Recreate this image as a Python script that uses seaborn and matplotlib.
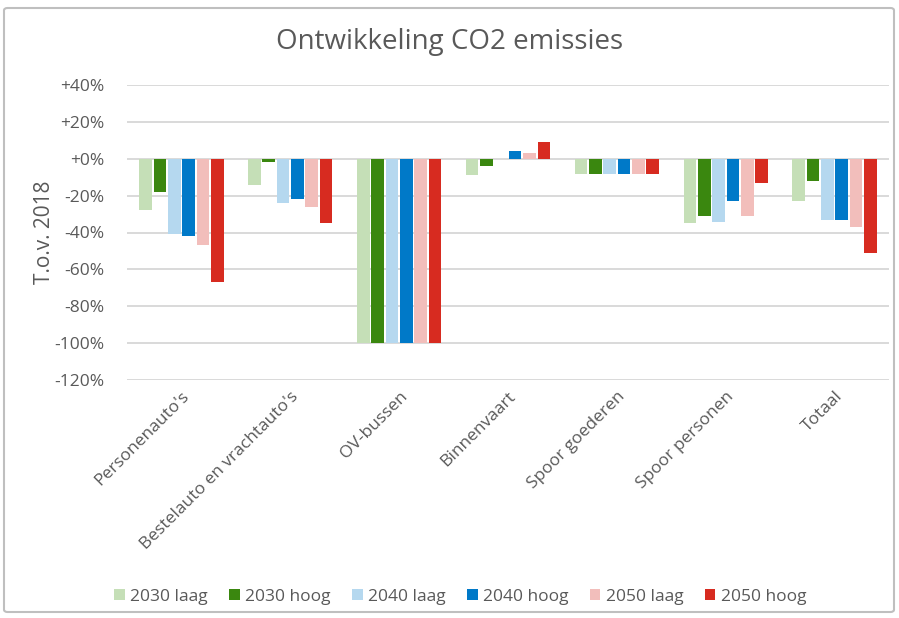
import matplotlib.pyplot as plt
import pandas as pd
import seaborn as sns
from matplotlib.patches import FancyBboxPatch
from matplotlib.ticker import FuncFormatter

categorieen = ["Personenauto's", "Bestelauto en vrachtauto's", "OV-bussen",
               "Binnenvaart", "Spoor goederen", "Spoor personen", "Totaal"]
scenarios = ["2030 laag", "2030 hoog", "2040 laag", "2040 hoog", "2050 laag", "2050 hoog"]

# verandering t.o.v. 2018 in procenten, per scenario
w2030_laag = [-28, -14, -100, -9, -8, -35, -23]
w2030_hoog = [-18, -1.5, -100, -4, -8, -31, -12]
w2040_laag = [-41, -24, -100, 0, -8, -34.5, -33]
w2040_hoog = [-42, -22, -100, 4, -8, -23, -33]
w2050_laag = [-47, -26, -100, 3, -8, -31, -37]
w2050_hoog = [-67, -35, -100, 9, -8, -13, -51]

kleuren = ["#c5dfb7", "#3a870f", "#b5d8ef", "#0079c8", "#f2bebb", "#d72b20"]

reeksen = [w2030_laag, w2030_hoog, w2040_laag, w2040_hoog, w2050_laag, w2050_hoog]
df = pd.DataFrame([
    {"categorie": c, "scenario": s, "waarde": v}
    for s, vals in zip(scenarios, reeksen)
    for c, v in zip(categorieen, vals)
])

TXT = "#595959"
sns.set_theme(style="white")
plt.rcParams["font.family"] = ["Open Sans", "DejaVu Sans"]

fig = plt.figure(figsize=(8.99, 6.18), dpi=100)
ax = fig.add_axes([127 / 899, 1 - 380 / 618, 762 / 899, 295 / 618])

sns.barplot(data=df, x="categorie", y="waarde", hue="scenario",
            order=categorieen, hue_order=scenarios, palette=kleuren,
            width=0.79, gap=0.12, saturation=1, linewidth=0, ax=ax, zorder=3)

ax.set_ylim(-120, 40)
ax.set_xlim(-0.5, len(categorieen) - 0.5)
ax.set_yticks(range(-120, 41, 20))
ax.yaxis.set_major_formatter(FuncFormatter(lambda v, _: f"{v:+.0f}%" if v != 0 else "+0%"))
ax.grid(axis="y", color="#d9d9d9", linewidth=1.4, zorder=0)
ax.set_axisbelow(True)
for sp in ax.spines.values():
    sp.set_visible(False)

ax.tick_params(axis="y", length=0, pad=16, labelsize=12.5, labelcolor=TXT)
ax.tick_params(axis="x", length=0, pad=6, labelsize=12.5, labelcolor=TXT)
ax.set_xlabel("")
ax.set_ylabel("T.o.v. 2018", fontsize=15, color=TXT, labelpad=0)
for lbl in ax.get_xticklabels():
    lbl.set_rotation(45)
    lbl.set_ha("right")
    lbl.set_rotation_mode("anchor")

fig.text(0.5, 1 - 42 / 618, "Ontwikkeling CO2 emissies", ha="center", va="center",
         fontsize=20, color=TXT)

sns.move_legend(ax, "center", bbox_to_anchor=(0.512, 1 - 597 / 618),
                bbox_transform=fig.transFigure, ncol=6, frameon=False, title=None,
                fontsize=12.5, handlelength=0.6, handleheight=0.6, handletextpad=0.3,
                columnspacing=1.25, labelcolor=TXT)

fig.patches.append(FancyBboxPatch((4 / 899, 6 / 618), 890 / 899, 604 / 618,
                                  boxstyle="round,pad=0,rounding_size=0.004",
                                  transform=fig.transFigure, fill=False,
                                  edgecolor="#bfbfbf", linewidth=1.5))

plt.savefig("out.png", dpi=100)
